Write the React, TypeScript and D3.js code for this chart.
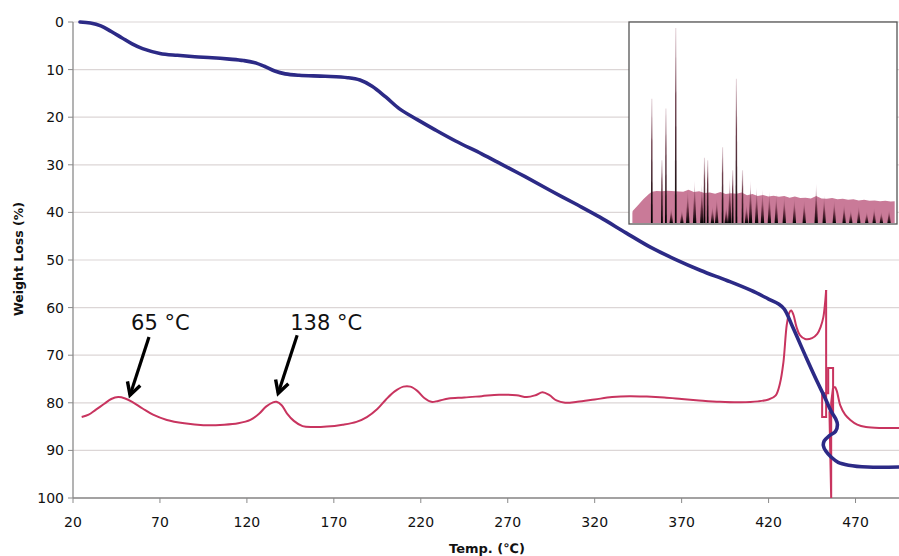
import React from 'react';
import * as d3 from 'd3';

const W = 899;
const H = 556;

// Axis ticks
const xTicks = [20, 70, 120, 170, 220, 270, 320, 370, 420, 470];
const yTicks = [0, 10, 20, 30, 40, 50, 60, 70, 80, 90, 100];

// TG curve (blue): temperature (°C) and weight loss (%)
const tgTemp = [24, 30, 36, 42, 48, 54, 60, 70, 80, 90, 100, 110, 118, 124, 130, 136, 142, 150, 165, 178, 185, 192, 200, 208, 218, 228, 240, 255, 266, 280, 294.5, 310, 323, 338, 352, 366, 381, 396, 410, 420, 426, 429, 434, 442, 448, 452, 456, 458.5, 459.6, 458.5, 455, 452, 451.5, 453, 456, 460, 466, 477, 495];
const tgLoss = [0, 0.2, 0.8, 2, 3.3, 4.6, 5.6, 6.6, 7.0, 7.3, 7.5, 7.8, 8.1, 8.5, 9.3, 10.3, 10.9, 11.2, 11.4, 11.7, 12.2, 13.5, 15.8, 18.3, 20.5, 22.6, 25, 27.7, 29.8, 32.5, 35.4, 38.4, 41, 44.3, 47.3, 49.8, 52.2, 54.3, 56.4, 58.2, 59.3, 60.3, 64.2, 70.8, 75.6, 78.6, 81.8, 83.3, 84.6, 86, 86.9, 88, 89, 90.2, 91.4, 92.5, 93.1, 93.5, 93.5];

// DTA curve (pink), three segments: smooth part, sharp spike part, smooth tail
const dtaTemp1 = [25, 29, 33, 38, 42, 46, 50, 54, 60, 66, 74, 84, 95, 107, 115, 122, 127, 131, 135, 137, 140, 143, 147, 152, 158, 166, 175, 183, 189, 195, 200, 205, 210, 214, 218, 222, 226, 230, 236, 245, 255, 265, 275, 281, 286, 290, 294, 298, 303, 310, 320, 330, 340, 350, 360, 370, 380, 392, 404, 414, 420, 424, 426.5, 428.5, 430.5, 432, 433, 434.3, 436, 438, 441, 445, 448, 450, 451.5, 452.5, 453.1];
const dtaVal1 = [83, 82.5, 81.5, 80.2, 79.2, 78.8, 79.1, 79.8, 81.2, 82.5, 83.6, 84.3, 84.7, 84.6, 84.3, 83.6, 82.3, 80.8, 79.9, 79.8, 80.5, 82.2, 83.8, 84.9, 85.1, 85, 84.6, 84, 83, 81.3, 79.3, 77.6, 76.6, 76.6, 77.5, 79, 79.8, 79.6, 79.1, 78.9, 78.6, 78.3, 78.4, 78.8, 78.4, 77.8, 78.4, 79.5, 80, 79.8, 79.3, 78.8, 78.6, 78.7, 78.9, 79.2, 79.5, 79.8, 79.9, 79.7, 79.3, 78.5, 76, 71.6, 63.5, 61, 60.6, 61.5, 64, 65.8, 66.6, 66.4, 65.5, 64, 62, 59, 56.3];
const dtaTemp2 = [453.1, 453.1, 450.8, 450.8, 454.3, 454.3, 457.1, 457.1, 455, 456, 456, 457, 458.2];
const dtaVal2 = [56.3, 83, 83, 78, 78, 72.7, 72.7, 82, 82, 100, 80, 77, 76.6];
const dtaTemp3 = [458.2, 459.3, 461.3, 464, 467, 471, 476, 485, 495];
const dtaVal3 = [76.6, 77.6, 80.6, 82.5, 83.6, 84.6, 85.1, 85.3, 85.3];

// Annotations
const annoText = ['65 °C', '138 °C'];
const annoTextT = [53.4, 144.9];
const annoTextV = [64.7, 64.7];
const annoFromT = [63.7, 148.9];
const annoFromV = [66.2, 65.8];
const annoToT = [52.8, 138];
const annoToV = [78.4, 78];

// Inset spectrum: envelope (position 0-100, intensity 0-100)
const envPos = [0.9, 1, 3, 5, 7, 8.2, 10, 12, 14, 17, 20, 22, 24, 26, 28, 30, 32, 34, 36, 38, 40, 42, 44, 46, 48, 50, 52, 54, 56, 58, 60, 62, 64, 66, 68, 70, 72, 74, 76, 78, 80, 82, 84, 86, 88, 90, 92, 94, 96, 98, 99.5];
const envInt = [5, 6, 9, 12, 14.5, 15.8, 16.2, 16, 16.3, 16, 15.8, 16.8, 15.6, 16, 15.2, 15.4, 14.8, 15.6, 14.6, 15, 14.8, 15.4, 14, 14.6, 13.6, 14.2, 13.4, 13.8, 13.2, 13.6, 12.8, 13.4, 12.6, 12.8, 12.4, 13.6, 12.4, 12.2, 12.6, 12, 12.2, 11.8, 12, 11.4, 11.8, 11.2, 11.4, 11, 11.2, 10.8, 11];
// Inset spikes
const spikePos = [8.2, 12, 13.5, 15.5, 17.2, 19.5, 21.7, 24.3, 27, 28, 29.2, 31, 32.6, 34.8, 36.2, 37.5, 38.6, 40, 42.3, 43.8, 45.3, 47.6, 49.8, 52.4, 55, 58, 61.8, 65.5, 70, 73, 76.8, 80.5, 83, 86, 89, 91.8, 94.5, 97.4];
const spikeInt = [62.8, 31.7, 57.8, 8, 98.5, 7, 17.6, 21.6, 20, 33, 31.7, 9, 13, 38.2, 9, 23, 26.6, 72.9, 26.6, 10, 21.6, 18, 17, 16, 15, 14, 13, 12, 20, 14, 12, 10, 7, 9, 6, 8, 6, 7];

const x = d3.scaleLinear().domain([20, 495]).range([73, 899]);
const y = d3.scaleLinear().domain([0, 100]).range([22, 498]);

const insetBox = { x0: 629, y0: 22, x1: 897, y1: 224 };
const ix = d3.scaleLinear().domain([0, 100]).range([630, 896]);
const iy = d3.scaleLinear().domain([0, 100]).range([223, 25]);

const zip = (a: number[], b: number[]) => a.map((v, i) => [v, b[i]] as [number, number]);

export default function App() {
  const smooth = d3.line<[number, number]>().x(d => x(d[0])).y(d => y(d[1])).curve(d3.curveCatmullRom.alpha(0.5));
  const linear = d3.line<[number, number]>().x(d => x(d[0])).y(d => y(d[1]));

  const tgPath = smooth(zip(tgTemp, tgLoss)) || '';
  const dta1 = smooth(zip(dtaTemp1, dtaVal1)) || '';
  const dta2 = linear(zip(dtaTemp2, dtaVal2)) || '';
  const dta3 = smooth(zip(dtaTemp3, dtaVal3)) || '';

  const envArea = d3.area<[number, number]>()
    .x(d => ix(d[0])).y0(iy(0)).y1(d => iy(d[1]))(zip(envPos, envInt)) || '';

  const font = 'DejaVu Sans, Verdana, sans-serif';
  const gridColor = '#dcd6d6';
  const axisColor = '#8a8a8a';
  const blue = '#2c2a86';
  const pink = '#c8345f';

  return (
    <svg width={W} height={H} style={{ position: 'absolute', left: 0, top: 0, background: '#fff' }} xmlns="http://www.w3.org/2000/svg">
      <defs>
        <linearGradient id="spikeTall" x1="0" y1="0" x2="0" y2="1">
          <stop offset="0" stopColor="#a06478" stopOpacity="0.25" />
          <stop offset="0.35" stopColor="#5a2232" stopOpacity="0.85" />
          <stop offset="1" stopColor="#000" stopOpacity="1" />
        </linearGradient>
        <linearGradient id="spikeSmall" x1="0" y1="0" x2="0" y2="1">
          <stop offset="0" stopColor="#c97a98" stopOpacity="0.2" />
          <stop offset="0.6" stopColor="#4a1828" stopOpacity="0.75" />
          <stop offset="1" stopColor="#000" stopOpacity="1" />
        </linearGradient>
        <clipPath id="insetClip">
          <rect x={insetBox.x0} y={insetBox.y0} width={insetBox.x1 - insetBox.x0} height={insetBox.y1 - insetBox.y0} />
        </clipPath>
      </defs>

      {/* grid */}
      {yTicks.map(t => (
        <line key={'g' + t} x1={x(20)} x2={W} y1={y(t)} y2={y(t)} stroke={gridColor} strokeWidth={1.2} />
      ))}
      {/* axes */}
      <line x1={x(20)} x2={x(20)} y1={y(0)} y2={y(100)} stroke={axisColor} strokeWidth={1.3} />
      <line x1={x(20)} x2={W} y1={y(100)} y2={y(100)} stroke={axisColor} strokeWidth={1.3} />
      {yTicks.map(t => (
        <g key={'yt' + t}>
          <line x1={x(20) - 5} x2={x(20)} y1={y(t)} y2={y(t)} stroke={axisColor} strokeWidth={1} />
          <text x={64} y={y(t)} dy="0.35em" textAnchor="end" fontFamily={font} fontSize={14} fill="#111">{t}</text>
        </g>
      ))}
      {xTicks.map(t => (
        <g key={'xt' + t}>
          <line x1={x(t)} x2={x(t)} y1={y(100)} y2={y(100) + 5} stroke={axisColor} strokeWidth={1} />
          <text x={x(t)} y={527} textAnchor="middle" fontFamily={font} fontSize={14} fill="#111">{t}</text>
        </g>
      ))}
      <text x={487} y={553} textAnchor="middle" fontFamily={font} fontSize={13} fontWeight="bold" fill="#111">Temp. (℃)</text>
      <text transform={`translate(23,259) rotate(-90)`} textAnchor="middle" fontFamily={font} fontSize={12.5} fontWeight="bold" fill="#111">Weight Loss (%)</text>

      {/* inset */}
      <rect x={insetBox.x0} y={insetBox.y0} width={insetBox.x1 - insetBox.x0} height={insetBox.y1 - insetBox.y0} fill="#fff" />
      <g clipPath="url(#insetClip)">
        <path d={envArea} fill="#c97a98" />
        {spikePos.map((p, i) => {
          const cx = ix(p);
          const top = iy(spikeInt[i]);
          const base = iy(0);
          const tall = spikeInt[i] > 25;
          const hw = tall ? 0.9 : 1.7;
          const d = tall
            ? `M${cx - hw},${base}L${cx - hw * 0.6},${top}L${cx + hw * 0.6},${top}L${cx + hw},${base}Z`
            : `M${cx - hw},${base}L${cx},${top}L${cx + hw},${base}Z`;
          return <path key={'s' + i} d={d} fill={tall ? 'url(#spikeTall)' : 'url(#spikeSmall)'} />;
        })}
      </g>
      <rect x={insetBox.x0} y={insetBox.y0} width={insetBox.x1 - insetBox.x0} height={insetBox.y1 - insetBox.y0} fill="none" stroke="#555" strokeWidth={1.3} />

      {/* DTA (pink) */}
      <path d={dta1} fill="none" stroke={pink} strokeWidth={2} strokeLinejoin="round" />
      <path d={dta2} fill="none" stroke={pink} strokeWidth={2} strokeLinejoin="miter" />
      <path d={dta3} fill="none" stroke={pink} strokeWidth={2} strokeLinejoin="round" />

      {/* TG (blue) */}
      <path d={tgPath} fill="none" stroke={blue} strokeWidth={3.6} strokeLinejoin="round" strokeLinecap="round" />

      {/* annotations */}
      {annoText.map((t, i) => {
        const x1 = x(annoFromT[i]), y1 = y(annoFromV[i]);
        const x2 = x(annoToT[i]), y2 = y(annoToV[i]);
        const ang = Math.atan2(y2 - y1, x2 - x1);
        const L = 14, spread = 0.5;
        const ax1 = x2 - L * Math.cos(ang - spread), ay1 = y2 - L * Math.sin(ang - spread);
        const ax2 = x2 - L * Math.cos(ang + spread), ay2 = y2 - L * Math.sin(ang + spread);
        return (
          <g key={'a' + i}>
            <text x={x(annoTextT[i])} y={y(annoTextV[i])} fontFamily={font} fontSize={21} fill="#111">{t}</text>
            <line x1={x1} y1={y1} x2={x2} y2={y2} stroke="#000" strokeWidth={3.2} />
            <path d={`M${ax1},${ay1}L${x2},${y2}L${ax2},${ay2}`} fill="none" stroke="#000" strokeWidth={3.4} strokeLinejoin="miter" />
          </g>
        );
      })}
    </svg>
  );
}
